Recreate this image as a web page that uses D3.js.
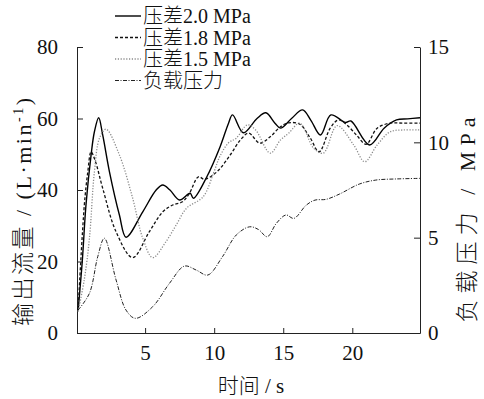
<!DOCTYPE html>
<html>
<head>
<meta charset="utf-8">
<script src="https://cdn.jsdelivr.net/npm/d3@7"></script>
<style>
  body { margin: 0; background: #fff; }
  svg text { fill: #111; }
</style>
</head>
<body>
<div id="chart"></div>
<script>
// flow, 压差 2.0 MPa
const t20 = [0.15, 0.45, 0.72, 1.09, 1.33, 1.64, 1.93, 2.42, 3.14, 3.62, 4.83, 5.8, 6.28, 6.8, 7.5, 8.26, 8.5, 9.47, 10.43, 11.04, 11.33, 12.12, 13.1, 13.74, 14.4, 14.8, 15.6, 16.4, 17.0, 17.7, 18.45, 19.5, 19.9, 21.25, 22.3, 23.2, 24.0, 24.9];
const q20 = [6.4, 20, 35.8, 49.8, 56.3, 60.2, 55.4, 45.1, 33, 26.8, 33.9, 40, 41.4, 40, 37.2, 39.1, 37.7, 43.7, 52.1, 58.7, 61, 56, 60, 61.6, 58.7, 57.3, 60, 62.4, 59.5, 55.4, 61, 58.9, 59.3, 52.6, 57.3, 59.6, 59.9, 60.2];

// flow, 压差 1.8 MPa
const t18 = [0.15, 0.6, 0.85, 1.09, 1.4, 1.93, 2.9, 4.1, 5.3, 6.28, 7.0, 7.7, 8.2, 8.86, 9.3, 10.2, 11.16, 11.9, 12.5, 13.3, 14.06, 14.8, 15.4, 16.2, 16.96, 17.6, 18.4, 19.0, 19.6, 20.3, 21.0, 21.8, 22.75, 23.7, 24.9];
const q18 = [6.4, 35.8, 45, 50.7, 48, 40.5, 28.3, 21.1, 28.3, 33.9, 35.8, 36.7, 39, 43.7, 43, 45.1, 49.8, 54, 55.9, 53.1, 54.9, 57.7, 58.8, 58.4, 54.5, 50.7, 57.3, 59.6, 58.2, 55.4, 52.8, 57.3, 58.7, 58.7, 58.7];

// flow, 压差 1.5 MPa
const t15 = [0.15, 0.6, 0.97, 1.33, 1.7, 2.17, 3.14, 4.1, 4.83, 5.55, 6.5, 7.25, 8.0, 9.2, 9.95, 10.4, 11.04, 11.6, 12.4, 13.0, 14.06, 14.8, 15.4, 16.2, 17.2, 17.9, 18.9, 20.1, 20.9, 21.8, 22.75, 23.7, 24.9];
const q15 = [6.0, 15, 26.5, 45.1, 54.5, 57, 49.8, 37.7, 26.5, 21.1, 25.5, 30.2, 34.9, 38.1, 44.7, 49.3, 53.2, 54.5, 58.2, 56.8, 50.3, 54, 55.9, 58.7, 51.7, 50.3, 58, 52.6, 47.9, 52.6, 56.3, 56.8, 56.8];

// load pressure (right axis, MPa)
const tLoad = [0.15, 0.97, 1.57, 2.05, 2.9, 3.62, 4.3, 5.55, 6.76, 7.85, 8.7, 9.54, 10.6, 11.6, 12.56, 13.2, 13.84, 14.5, 15.2, 15.77, 16.67, 17.3, 18.1, 19.08, 20.5, 21.7, 23.2, 24.9];
const pLoad = [1.2, 2.08, 4.0, 4.97, 2.78, 1.2, 0.77, 1.38, 2.6, 3.51, 3.3, 3.04, 4.0, 5.14, 5.57, 5.43, 5.05, 5.75, 6.19, 6.01, 6.71, 6.97, 7.01, 7.29, 7.81, 8.02, 8.08, 8.11];

const xTicks = [5, 10, 15, 20];
const yTicks = [0, 20, 40, 60, 80];
const y2Ticks = [0, 5, 10, 15];
const legendNames = ["压差2.0 MPa", "压差1.8 MPa", "压差1.5 MPa", "负载压力"];

const W = 484, H = 399;
const plot = { left: 77, right: 420, top: 47, bottom: 333 };
const serif = "'Liberation Serif', 'Noto Sans CJK SC', serif";
const cjk = "'Noto Sans CJK SC', serif";

const styles = [
    { color: "#000", width: 1.4, dash: null },
    { color: "#111", width: 1.3, dash: "3,2" },
    { color: "#8a8a8a", width: 1.3, dash: "1.2,1.6" },
    { color: "#222", width: 1, dash: "4,1.5,1,1.5" }
];

const svg = d3.select("#chart")
    .append("svg")
    .attr("width", W)
    .attr("height", H);

const x = d3.scaleLinear().domain([0.07, 24.9]).range([plot.left, plot.right]);
const y = d3.scaleLinear().domain([0, 80]).range([plot.bottom, plot.top]);
const y2 = d3.scaleLinear().domain([0, 15]).range([plot.bottom, plot.top]);

// axes
const xAxis = d3.axisBottom(x).tickValues(xTicks).tickSizeInner(-5).tickSizeOuter(0).tickPadding(12);
const yAxis = d3.axisLeft(y).tickValues(yTicks).tickSizeInner(-6).tickSizeOuter(0).tickPadding(19);
const y2Axis = d3.axisRight(y2).tickValues(y2Ticks).tickSizeInner(-6).tickSizeOuter(0).tickPadding(8);

function styleAxis(g) {
    g.select(".domain").attr("stroke", "#222");
    g.selectAll(".tick line").attr("stroke", "#222");
    g.selectAll("text")
        .attr("font-family", serif)
        .attr("font-size", 21)
        .attr("fill", "#111");
}

svg.append("g")
    .attr("transform", "translate(0," + plot.bottom + ")")
    .call(xAxis)
    .call(styleAxis);

svg.append("g")
    .attr("transform", "translate(" + plot.left + ",0)")
    .call(yAxis)
    .call(styleAxis);

svg.append("g")
    .attr("transform", "translate(" + plot.right + ",0)")
    .call(y2Axis)
    .call(styleAxis);

// clip
svg.append("clipPath").attr("id", "clip")
    .append("rect")
    .attr("x", plot.left)
    .attr("y", plot.top - 5)
    .attr("width", plot.right - plot.left)
    .attr("height", plot.bottom - plot.top + 5);

const series = [
    { t: t20, v: q20, scale: y },
    { t: t18, v: q18, scale: y },
    { t: t15, v: q15, scale: y },
    { t: tLoad, v: pLoad, scale: y2 }
];

const lines = svg.append("g").attr("clip-path", "url(#clip)");

series.forEach((s, i) => {
    const pts = s.t.map((t, j) => [t, s.v[j]]);
    const line = d3.line()
        .x(d => x(d[0]))
        .y(d => s.scale(d[1]))
        .curve(d3.curveCatmullRom.alpha(0.5));
    lines.append("path")
        .datum(pts)
        .attr("d", line)
        .attr("fill", "none")
        .attr("stroke", styles[i].color)
        .attr("stroke-width", styles[i].width)
        .attr("stroke-dasharray", styles[i].dash);
});

// legend
const legendY = [16, 37.5, 59, 80.5];
const legend = svg.append("g");
legendNames.forEach((name, i) => {
    legend.append("line")
        .attr("x1", 115).attr("x2", 141)
        .attr("y1", legendY[i]).attr("y2", legendY[i])
        .attr("stroke", styles[i].color)
        .attr("stroke-width", styles[i].width)
        .attr("stroke-dasharray", styles[i].dash);
    legend.append("text")
        .attr("x", 143)
        .attr("y", legendY[i] + 7)
        .attr("font-family", serif)
        .attr("font-size", 20)
        .attr("font-weight", 300)
        .text(name);
});

// axis titles
svg.append("text")
    .attr("x", 251)
    .attr("y", 393)
    .attr("text-anchor", "middle")
    .attr("font-family", serif)
    .attr("font-size", 21)
    .attr("font-weight", 300)
    .text("时间 / s");

const yl = svg.append("text")
    .attr("transform", "translate(31,212) rotate(-90)")
    .attr("text-anchor", "middle")
    .attr("font-family", serif)
    .attr("font-size", 22)
    .attr("textLength", 228)
    .attr("lengthAdjust", "spacing");
yl.append("tspan").attr("font-family", cjk).attr("font-size", 23).attr("font-weight", 300).text("输出流量");
yl.append("tspan").text(" / (L·min");
yl.append("tspan").attr("dy", -8).attr("font-size", 14).text("-1");
yl.append("tspan").attr("dy", 8).text(")");

const yr = svg.append("text")
    .attr("transform", "translate(475,220) rotate(-90)")
    .attr("text-anchor", "middle")
    .attr("font-family", serif)
    .attr("font-size", 22)
    .attr("textLength", 205)
    .attr("lengthAdjust", "spacing");
yr.append("tspan").attr("font-family", cjk).attr("font-size", 23).attr("font-weight", 300).text("负载压力");
yr.append("tspan").text(" / MPa");
</script>
</body>
</html>
